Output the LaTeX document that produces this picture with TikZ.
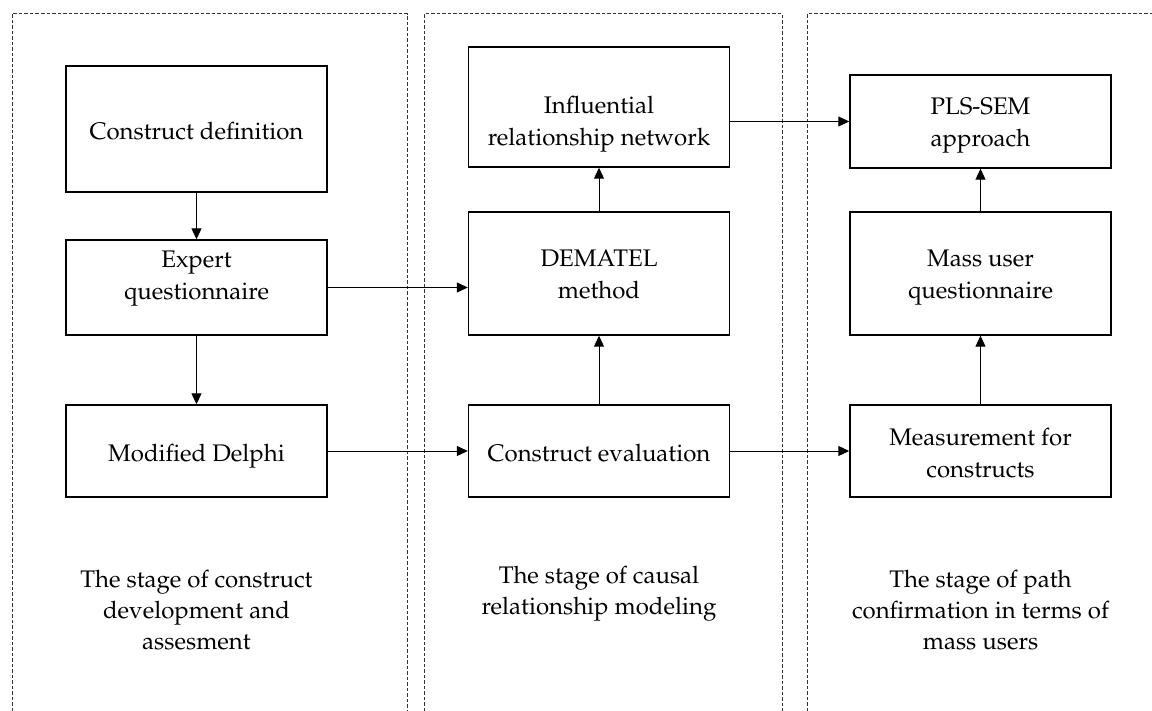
\documentclass[tikz,border=0pt]{standalone}
\usepackage[T1]{fontenc}
\usepackage{mathpazo}
\usetikzlibrary{arrows.meta}
\newcommand{\shifttext}[2]{\raisebox{#1}[\height][\depth]{\begin{tabular}{@{}c@{}}#2\end{tabular}}}
\begin{document}
\begin{tikzpicture}[x=1pt,y=-1pt,
  box/.style={draw,line width=1.4pt,minimum width=261pt,inner sep=2pt,font=\fontsize{24}{32}\selectfont},
  arr/.style={line width=1pt,-{Triangle[length=11pt,width=10pt]}},
  panel/.style={draw=black!80,line width=1pt,dash pattern=on 3.5pt off 2pt},
  stagelabel/.style={align=center,font=\fontsize{24}{31}\selectfont}]
\useasboundingbox (0,0) rectangle (1152,711);
\draw[panel] (12,711) -- (12,14) -- (407,14) -- (407,711);
\draw[panel] (424,711) -- (424,14) -- (782,14) -- (782,711);
\draw[panel] (807,711) -- (807,14) -- (1152,14);
% column 1
\node[box,minimum height=126pt] (def) at (196.5,129) {\shifttext{-4pt}{Construct definition}};
\node[box,minimum height=95pt] (exp) at (196.5,287.5) {\shifttext{10pt}{Expert\\questionnaire}};
\node[box,minimum height=92pt] (del) at (196.5,451) {\shifttext{-4pt}{Modified Delphi}};
% column 2
\node[box,minimum height=120pt] (inf) at (599,107) {\shifttext{-16pt}{Influential\\relationship network}};
\node[box,minimum height=123pt] (dem) at (599,273.5) {\shifttext{-3pt}{DEMATEL\\method}};
\node[box,minimum height=92pt] (ce) at (599,451) {\shifttext{-4pt}{Construct evaluation}};
% column 3
\node[box,minimum height=93pt] (pls) at (980.5,121.5) {\shifttext{-3pt}{PLS-SEM\\approach}};
\node[box,minimum height=123pt] (mass) at (980.5,273.5) {\shifttext{-3pt}{Mass user\\questionnaire}};
\node[box,minimum height=92pt] (meas) at (980.5,451) {\shifttext{-4pt}{Measurement for\\constructs}};
% arrows
\draw[arr] (def.south) -- (exp.north);
\draw[arr] (exp.south) -- (del.north);
\draw[arr] (exp.east) -- (exp.east -| dem.west);
\draw[arr] (del.east) -- (ce.west);
\draw[arr] (ce.north) -- (dem.south);
\draw[arr] (dem.north) -- (inf.south);
\draw[arr] (pls.west -| inf.east) -- (pls.west);
\draw[arr] (ce.east) -- (meas.west);
\draw[arr] (meas.north) -- (mass.south);
\draw[arr] (mass.north) -- (pls.south);
% stage labels
\node[stagelabel] (s1) at (196.5,610) {The stage of construct\\development and\\assesment};
\node[stagelabel] (s2) at (599,594) {The stage of causal\\relationship modeling};
\node[stagelabel] (s3) at (980.5,610) {The stage of path\\confirmation in terms of\\mass users};
\end{tikzpicture}
\end{document}
